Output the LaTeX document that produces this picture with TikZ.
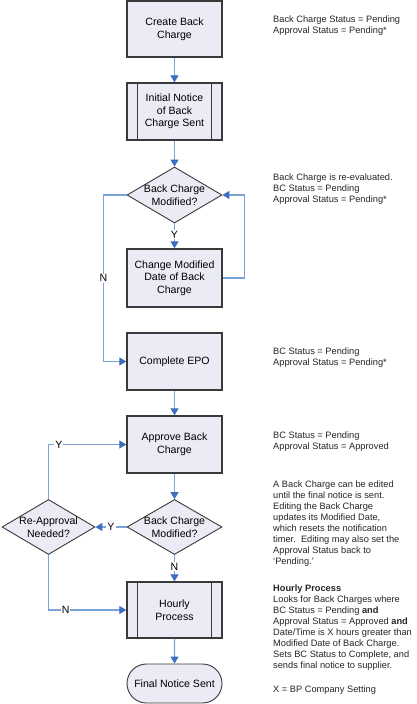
\documentclass[tikz,border=0pt]{standalone}
\usepackage{fontspec}
\setmainfont{Liberation Sans}
\usetikzlibrary{shapes.geometric,shapes.misc,arrows.meta}
\definecolor{boxfill}{HTML}{EBEBF5}
\definecolor{boxline}{HTML}{3A3A3A}
\definecolor{linkblue}{HTML}{7AA3DA}
\definecolor{tipblue}{HTML}{3D6DBF}
\tikzset{
  boxtext/.style={font=\fontsize{10.6}{12.7}\selectfont, align=center},
  stepbox/.style={draw=boxline, line width=1.4bp, fill=boxfill, minimum width=95bp, inner sep=0pt, boxtext},
  decbox/.style={diamond, draw=boxline, line width=0.9bp, fill=boxfill, inner sep=0pt},
  endbox/.style={rounded rectangle, draw=boxline, line width=0.9bp, fill=boxfill, minimum width=95bp, minimum height=39bp, inner sep=0pt, boxtext},
  conn/.style={draw=linkblue, line width=1.3bp, -{Triangle[length=7bp, width=8bp, color=tipblue]}},
  lbl/.style={fill=white, inner sep=1bp, font=\fontsize{10.6}{12}\selectfont},
  note/.style={anchor=north west, inner sep=0pt, align=left, font=\fontsize{9.3}{11.1}\selectfont, text=black!85}
}
\begin{document}
\begin{tikzpicture}[x=1bp, y=-1bp]
\useasboundingbox[fill=white] (0,0) rectangle (416,704);

% main column
\node[stepbox, minimum height=56bp] (cb) at (174.5,29) {Create Back\\Charge};
\node[stepbox, minimum height=57bp] (ins) at (174.5,111.5) {Initial Notice\\of Back\\Charge Sent};
\draw[boxline, line width=1.1bp] ([xshift=11bp]ins.north west) -- ([xshift=11bp]ins.south west)
  ([xshift=-11bp]ins.north east) -- ([xshift=-11bp]ins.south east);
\node[decbox, minimum width=95bp, minimum height=56bp] (d1) at (174.5,195) {};
\node[boxtext] (d1t) at (d1) {Back Charge\\Modified?};
\node[stepbox, minimum height=58bp] (cm) at (174.5,278) {Change Modified\\Date of Back\\Charge};
\node[stepbox, minimum height=57bp] (epo) at (174.5,361.5) {Complete EPO};
\node[stepbox, minimum height=57bp] (abc) at (174.5,444.5) {Approve Back\\Charge};
\node[decbox, minimum width=95bp, minimum height=55bp] (d2) at (174.5,527) {};
\node[boxtext] (d2t) at (d2) {Back Charge\\Modified?};
\node[decbox, minimum width=93bp, minimum height=55bp] (ra) at (48.5,527) {};
\node[boxtext] (rat) at (ra) {Re-Approval\\Needed?};
\node[stepbox, minimum height=56bp] (hp) at (174.5,610) {Hourly\\Process};
\draw[boxline, line width=1.1bp] ([xshift=11bp]hp.north west) -- ([xshift=11bp]hp.south west)
  ([xshift=-11bp]hp.north east) -- ([xshift=-11bp]hp.south east);
\node[endbox] (fn) at (174.5,683.5) {Final Notice Sent};

% connectors
\draw[conn] (cb) -- (ins);
\draw[conn] (ins) -- (d1);
\draw[conn] (d1) -- node[lbl, pos=0.45] {Y} (cm);
\draw[conn] (cm.east) -- ++(22,0) |- (d1.east);
\draw[conn] (d1.west) -- ++(-23,0) |- node[lbl, pos=0.25] {N} (epo.west);
\draw[conn] (epo) -- (abc);
\draw[conn] (abc) -- (d2);
\draw[conn] (d2) -- node[lbl, pos=0.45] {N} (hp);
\draw[conn] (d2.west) -- node[lbl, pos=0.5] {Y} (ra.east);
\draw[conn] (ra.north) |- node[lbl, pos=0.567] {Y} (abc.west);
\draw[conn] (ra.south) |- node[lbl, pos=0.61] {N} (hp.west);
\draw[conn] (hp) -- (fn);

% notes
\node[note] (n1) at (273,15.5) {Back Charge Status = Pending\\Approval Status = Pending*};
\node[note] (n2) at (273,173.5) {Back Charge is re-evaluated.\\BC Status = Pending\\Approval Status = Pending*};
\node[note] (n3) at (273,347.5) {BC Status = Pending\\Approval Status = Pending*};
\node[note] (n4) at (273,431.5) {BC Status = Pending\\Approval Status = Approved};
\node[note] (n5) at (273,480.5) {A Back Charge can be edited\\until the final notice is sent.\\Editing the Back Charge\\updates its Modified Date,\\which resets the notification\\timer.\ \ Editing may also set the\\Approval Status back to\\`Pending.'};
\node[note] (n6) at (273,584.5) {\textbf{Hourly Process}\\Looks for Back Charges where\\BC Status = Pending \textbf{and}\\Approval Status = Approved \textbf{and}\\Date/Time is X hours greater than\\Modified Date of Back Charge.\\Sets BC Status to Complete, and\\sends final notice to supplier.};
\node[note] (n7) at (273,685.5) {X = BP Company Setting};
\end{tikzpicture}
\end{document}
